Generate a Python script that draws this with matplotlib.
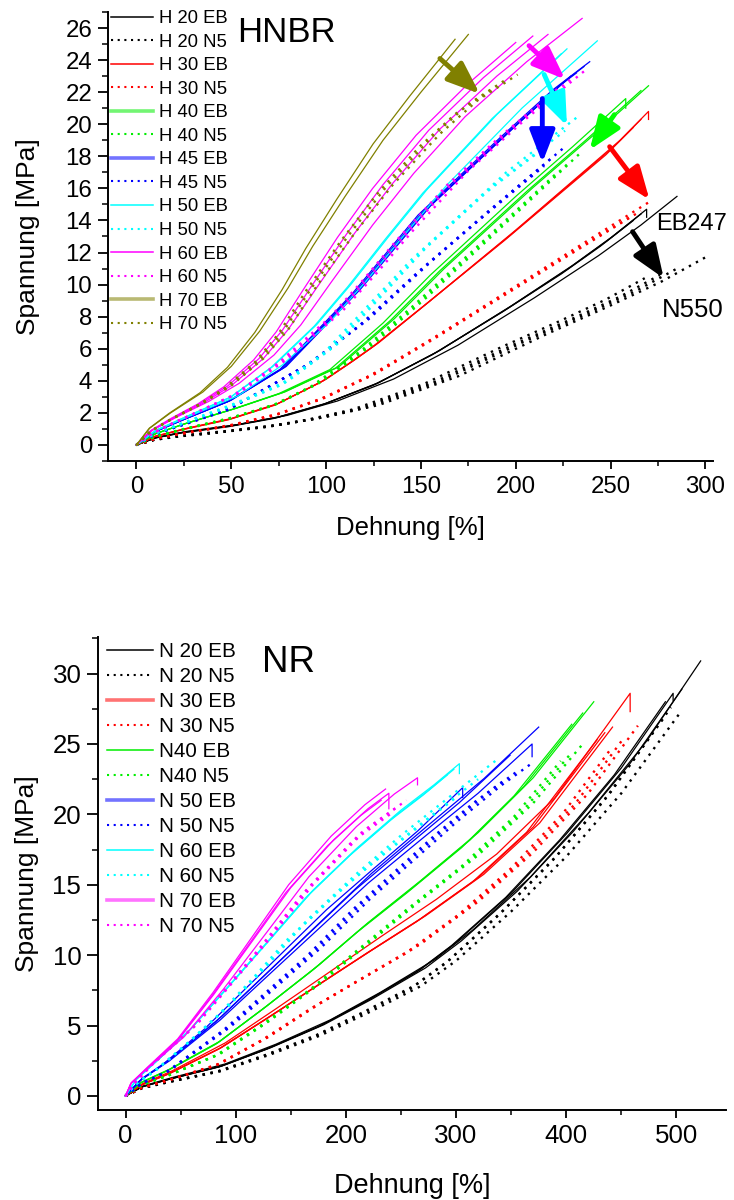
import numpy as np
import matplotlib
matplotlib.use('Agg')
import matplotlib.pyplot as plt
from matplotlib.lines import Line2D
from matplotlib.ticker import MultipleLocator

plt.rcParams['font.family'] = ['Liberation Sans', 'DejaVu Sans']

# ---------------- HNBR (top) data: strain [%], stress [MPa] ----------------
H20_EB_strain = [0, 10, 25, 50, 75, 100, 128, 160, 198, 230, 251, 269]
H20_EB_stress = [0, 0.45, 0.8, 1.2, 1.75, 2.6, 3.9, 5.9, 8.7, 11.2, 13.0, 14.7]
H20_EB_ends = [(269, 14.7, 0.5), (266, 14.4, 0.0), (262, 14.0, 0.0), (285, 15.5, 0.0)]

H20_N5_strain = [0, 10, 25, 50, 75, 100, 128, 170, 216, 250, 277, 300]
H20_N5_stress = [0, 0.35, 0.6, 0.9, 1.25, 1.75, 2.5, 4.3, 6.9, 8.7, 10.2, 11.7]
H20_N5_ends = [(300, 11.7, 0), (285, 11.0, 0), (276, 10.6, 0), (268, 10.4, 0)]

H30_EB_strain = [0, 10, 25, 50, 75, 100, 115, 128, 155, 200, 255, 270]
H30_EB_stress = [0, 0.55, 1.0, 1.65, 2.6, 4.1, 5.3, 6.4, 9.0, 13.4, 19.0, 20.8]
H30_EB_ends = [(270, 20.8, 0.5), (266, 20.3, 0), (262, 19.8, 0)]

H30_N5_strain = [0, 10, 25, 50, 75, 100, 128, 160, 200, 240, 271]
H30_N5_stress = [0, 0.4, 0.75, 1.25, 1.95, 3.0, 4.6, 6.9, 9.9, 12.9, 15.2]
H30_N5_ends = [(271, 15.2, 0), (266, 14.6, 0), (260, 14.2, 0)]

H40_EB_strain = [0, 10, 25, 50, 75, 102, 130, 155, 200, 230, 258]
H40_EB_stress = [0, 0.7, 1.3, 2.2, 3.2, 4.7, 7.6, 10.6, 15.5, 18.6, 21.6]
H40_EB_ends = [(258, 21.6, 0.6), (270, 22.4, 0), (266, 22.1, 0)]

H40_N5_strain = [0, 10, 25, 50, 75, 97, 125, 153, 198, 234]
H40_N5_stress = [0, 0.55, 1.0, 1.7, 2.6, 3.9, 6.3, 9.2, 14.2, 18.2]
H40_N5_ends = [(234, 18.2, 0), (228, 17.6, 0), (222, 17.0, 0)]

H45_EB_strain = [0, 10, 25, 50, 79, 118, 155, 200, 229, 239]
H45_EB_stress = [0, 0.85, 1.6, 2.8, 4.9, 9.7, 14.9, 19.9, 23.0, 23.9]
H45_EB_ends = [(239, 23.9, 0), (236, 23.6, 0), (229, 23.0, 0), (232, 23.2, 0)]

H45_N5_strain = [0, 10, 25, 50, 93, 123, 155, 190, 226]
H45_N5_stress = [0, 0.7, 1.3, 2.3, 5.2, 7.9, 11.4, 15.0, 18.6]
H45_N5_ends = [(226, 18.6, 0), (220, 18.0, 0), (215, 17.4, 0)]

H50_EB_strain = [0, 10, 25, 50, 72, 95, 113, 133, 153, 190, 227]
H50_EB_stress = [0, 0.9, 1.7, 3.0, 4.9, 7.5, 10.0, 13.0, 15.9, 20.6, 24.7]
H50_EB_ends = [(227, 24.7, 0), (224, 24.4, 0), (243, 25.2, 0)]

H50_N5_strain = [0, 10, 25, 50, 80, 106, 130, 155, 195, 233]
H50_N5_stress = [0, 0.75, 1.4, 2.5, 4.0, 6.3, 9.4, 12.6, 17.0, 20.5]
H50_N5_ends = [(233, 20.5, 0), (226, 19.6, 0), (218, 18.8, 0)]

H60_EB_strain = [0, 8, 20, 35, 50, 67, 80, 95, 115, 135, 160, 190, 217]
H60_EB_stress = [0, 0.9, 1.7, 2.6, 3.7, 5.4, 7.2, 9.8, 13.2, 16.3, 19.7, 23.0, 25.6]
H60_EB_ends = [(217, 25.6, 0), (209, 25.5, 0), (200, 25.1, 0), (235, 26.6, 0)]

H60_N5_strain = [0, 8, 20, 35, 55, 80, 109, 128, 146, 175, 205, 237]
H60_N5_stress = [0, 0.7, 1.4, 2.2, 3.3, 5.4, 8.4, 10.9, 13.4, 17.1, 20.3, 23.4]
H60_N5_ends = [(237, 23.4, 0), (230, 22.9, 0), (222, 22.2, 0)]

H70_EB_strain = [0, 7, 18, 35, 50, 65, 80, 93, 110, 130, 150, 175]
H70_EB_stress = [0, 1.05, 2.0, 3.3, 4.9, 7.1, 9.8, 12.4, 15.5, 19.0, 22.0, 25.6]
H70_EB_ends = [(175, 25.6, 0), (168, 25.3, 0)]

H70_N5_strain = [0, 8, 20, 35, 50, 67, 80, 95, 115, 135, 160, 180, 201]
H70_N5_stress = [0, 0.9, 1.7, 2.6, 3.7, 5.4, 7.2, 9.9, 13.2, 16.2, 19.4, 21.5, 23.1]
H70_N5_ends = [(201, 23.1, 0), (195, 22.8, 0), (188, 22.2, 0)]

h_labels = ["H 20 EB", "H 20 N5", "H 30 EB", "H 30 N5", "H 40 EB", "H 40 N5",
            "H 45 EB", "H 45 N5", "H 50 EB", "H 50 N5", "H 60 EB", "H 60 N5",
            "H 70 EB", "H 70 N5"]
h_colors = ["#000000", "#000000", "#ff0000", "#ff0000", "#00ee00", "#00ee00",
            "#0000ff", "#0000ff", "#00ffff", "#00ffff", "#ff00ff", "#ff00ff",
            "#808000", "#808000"]
h_series = [(H20_EB_strain, H20_EB_stress, H20_EB_ends), (H20_N5_strain, H20_N5_stress, H20_N5_ends),
            (H30_EB_strain, H30_EB_stress, H30_EB_ends), (H30_N5_strain, H30_N5_stress, H30_N5_ends),
            (H40_EB_strain, H40_EB_stress, H40_EB_ends), (H40_N5_strain, H40_N5_stress, H40_N5_ends),
            (H45_EB_strain, H45_EB_stress, H45_EB_ends), (H45_N5_strain, H45_N5_stress, H45_N5_ends),
            (H50_EB_strain, H50_EB_stress, H50_EB_ends), (H50_N5_strain, H50_N5_stress, H50_N5_ends),
            (H60_EB_strain, H60_EB_stress, H60_EB_ends), (H60_N5_strain, H60_N5_stress, H60_N5_ends),
            (H70_EB_strain, H70_EB_stress, H70_EB_ends), (H70_N5_strain, H70_N5_stress, H70_N5_ends)]
h_legend_light = ["H 40 EB", "H 45 EB", "H 70 EB"]

# arrows: (start strain, start stress) -> (end strain, end stress)
h_arrow_start = [(160, 24.1), (207, 24.9), (215, 23.1), (214, 21.6), (252, 20.6), (249.5, 18.6), (261.6, 13.3)]
h_arrow_end = [(181, 21.9), (226, 22.8), (227, 19.9), (214, 17.6), (239, 18.4), (270.5, 15.3), (278, 10.4)]
h_arrow_colors = ["#808000", "#ff00ff", "#00ffff", "#0000ff", "#00ff00", "#ff0000", "#000000"]

# ---------------- NR (bottom) data ----------------
N20_EB_strain = [0, 15, 40, 86, 130, 177, 220, 268, 300, 350, 400, 450, 497]
N20_EB_stress = [0, 0.65, 1.2, 2.1, 3.4, 5.0, 6.8, 9.0, 10.9, 14.4, 18.6, 23.3, 28.6]
N20_EB_ends = [(497, 28.6, 0.5), (490, 28.0, 0), (505, 28.9, 0), (522, 30.9, 0)]

N20_N5_strain = [0, 15, 40, 86, 130, 177, 220, 268, 300, 350, 400, 450, 505]
N20_N5_stress = [0, 0.55, 1.0, 1.75, 2.9, 4.3, 5.9, 7.8, 9.6, 13.1, 17.0, 21.5, 27.4]
N20_N5_ends = [(505, 27.4, 0), (495, 27.6, 0), (488, 26.8, 0)]

N30_EB_strain = [0, 15, 40, 86, 130, 177, 220, 268, 320, 370, 435]
N30_EB_stress = [0, 0.8, 1.6, 3.4, 5.6, 8.0, 10.2, 12.6, 15.5, 19.1, 25.8]
N30_EB_ends = [(435, 25.8, 0), (428, 25.3, 0), (442, 26.2, 0), (458, 28.6, 1.3)]

N30_N5_strain = [0, 15, 40, 86, 130, 177, 220, 268, 320, 370, 420, 465]
N30_N5_stress = [0, 0.6, 1.15, 2.3, 4.2, 6.6, 8.6, 10.8, 13.8, 17.3, 21.5, 26.3]
N30_N5_ends = [(465, 26.3, 0), (452, 25.4, 0), (440, 24.6, 0)]

N40_EB_strain = [0, 15, 40, 86, 130, 177, 220, 268, 320, 370, 425]
N40_EB_stress = [0, 1.0, 1.9, 3.9, 6.5, 9.4, 12.3, 15.3, 18.7, 22.6, 28.0]
N40_EB_ends = [(425, 28.0, 0), (415, 27.2, 0), (405, 26.4, 0)]

N40_N5_strain = [0, 15, 40, 86, 130, 177, 220, 268, 320, 370, 415]
N40_N5_stress = [0, 0.8, 1.5, 3.0, 5.3, 8.0, 10.8, 13.9, 17.1, 20.8, 25.0]
N40_N5_ends = [(415, 25.0, 0), (405, 24.4, 0), (395, 23.8, 0)]

N50_EB_strain = [0, 15, 40, 86, 130, 177, 220, 268, 320, 369]
N50_EB_stress = [0, 1.2, 2.5, 5.4, 8.6, 12.0, 15.1, 18.2, 21.5, 25.0]
N50_EB_ends = [(375, 26.2, 0), (369, 25.0, 0.9), (349, 24.2, 0), (306, 21.9, 0.7)]

N50_N5_strain = [0, 15, 40, 95, 177, 222, 268, 301, 340, 370]
N50_N5_stress = [0, 0.9, 1.8, 4.9, 10.5, 14.0, 17.2, 19.5, 22.0, 23.7]
N50_N5_ends = [(370, 23.7, 0), (358, 23.2, 0), (345, 22.5, 0)]

N60_EB_strain = [0, 10, 30, 61, 95, 131, 170, 210, 250, 280, 303]
N60_EB_stress = [0, 1.2, 2.6, 4.9, 7.9, 11.1, 14.6, 17.6, 20.3, 22.1, 23.6]
N60_EB_ends = [(303, 23.6, 0.7), (298, 23.2, 0), (292, 22.8, 0)]

N60_N5_strain = [0, 10, 30, 60, 95, 130, 165, 210, 250, 295, 339]
N60_N5_stress = [0, 0.9, 2.0, 4.0, 6.5, 9.4, 12.5, 15.8, 18.5, 21.3, 24.0]
N60_N5_ends = [(339, 24.0, 0), (320, 22.5, 0), (300, 21.2, 0)]

N70_EB_strain = [0, 5, 20, 48, 80, 116, 150, 189, 220, 239]
N70_EB_stress = [0, 0.9, 2.0, 4.0, 7.2, 11.1, 14.8, 18.2, 20.4, 21.5]
N70_EB_ends = [(239, 21.5, 1.1), (236, 21.8, 0), (232, 21.0, 0), (265, 22.6, 0.5)]

N70_N5_strain = [0, 8, 25, 65, 128, 170, 219, 255]
N70_N5_stress = [0, 0.9, 2.3, 5.1, 10.9, 15.0, 19.0, 21.0]
N70_N5_ends = [(255, 21.0, 0), (248, 20.6, 0), (240, 20.0, 0)]

n_labels = ["N 20 EB", "N 20 N5", "N 30 EB", "N 30 N5", "N40 EB", "N40 N5",
            "N 50 EB", "N 50 N5", "N 60 EB", "N 60 N5", "N 70 EB", "N 70 N5"]
n_colors = ["#000000", "#000000", "#ff0000", "#ff0000", "#00ee00", "#00ee00",
            "#0000ff", "#0000ff", "#00ffff", "#00ffff", "#ff00ff", "#ff00ff"]
n_series = [(N20_EB_strain, N20_EB_stress, N20_EB_ends), (N20_N5_strain, N20_N5_stress, N20_N5_ends),
            (N30_EB_strain, N30_EB_stress, N30_EB_ends), (N30_N5_strain, N30_N5_stress, N30_N5_ends),
            (N40_EB_strain, N40_EB_stress, N40_EB_ends), (N40_N5_strain, N40_N5_stress, N40_N5_ends),
            (N50_EB_strain, N50_EB_stress, N50_EB_ends), (N50_N5_strain, N50_N5_stress, N50_N5_ends),
            (N60_EB_strain, N60_EB_stress, N60_EB_ends), (N60_N5_strain, N60_N5_stress, N60_N5_ends),
            (N70_EB_strain, N70_EB_stress, N70_EB_ends), (N70_N5_strain, N70_N5_stress, N70_N5_ends)]
n_legend_light = ["N 30 EB", "N 50 EB", "N 70 EB"]

DOT = (0, (1, 2.4))


def draw(ax, series, labels, colors):
    for (strain, stress, ends), lab, col in zip(series, labels, colors):
        s = np.asarray(strain, float)
        t = np.asarray(stress, float)
        dotted = lab.endswith("N5")
        for xe, ye, drop in ends:
            x = s * xe / s[-1]
            y = t * ye / t[-1]
            if drop:
                x = np.append(x, xe)
                y = np.append(y, ye - drop)
            if dotted:
                ax.plot(x, y, color=col, lw=1.7, ls=DOT)
            else:
                ax.plot(x, y, color=col, lw=0.9, ls='-')


def handles(labels, colors, light):
    hs = []
    for lab, col in zip(labels, colors):
        if lab.endswith("N5"):
            hs.append(Line2D([], [], color=col, lw=1.5, ls=(0, (1, 2.2))))
        elif lab in light:
            hs.append(Line2D([], [], color=col, lw=2.6, alpha=0.55))
        else:
            hs.append(Line2D([], [], color=col, lw=1.1))
    return hs


def style(ax, tsize, xlen, ylen):
    for sp in ['top', 'right']:
        ax.spines[sp].set_visible(False)
    for sp in ['left', 'bottom']:
        ax.spines[sp].set_linewidth(1.4)
    ax.tick_params(which='both', direction='out', labelsize=tsize)
    ax.tick_params(axis='x', which='major', length=xlen, width=1.3, pad=4.5)
    ax.tick_params(axis='x', which='minor', length=xlen * 0.6, width=1.1)
    ax.tick_params(axis='y', which='major', length=ylen, width=1.3, pad=4)
    ax.tick_params(axis='y', which='minor', length=ylen * 0.55, width=1.1)


fig = plt.figure(figsize=(7.34, 12.0), dpi=100)

# ---- top panel ----
ax1 = fig.add_axes([108 / 734, 1 - 461 / 1200, 605 / 734, 449 / 1200])
draw(ax1, h_series, h_labels, h_colors)
for (x0, y0), (x1, y1), c in zip(h_arrow_start, h_arrow_end, h_arrow_colors):
    ax1.annotate('', xy=(x1, y1), xytext=(x0, y0),
                 arrowprops=dict(arrowstyle='-|>,head_length=0.9,head_width=0.35',
                                 lw=3.5, color=c, mutation_scale=22,
                                 shrinkA=0, shrinkB=0))
ax1.set_xlim(-15, 304)
ax1.set_ylim(-1, 27)
ax1.xaxis.set_major_locator(MultipleLocator(50))
ax1.xaxis.set_minor_locator(MultipleLocator(25))
ax1.yaxis.set_major_locator(MultipleLocator(2))
ax1.yaxis.set_minor_locator(MultipleLocator(1))
style(ax1, 17.3, 6, 7.5)
ax1.set_xlabel("Dehnung [%]", fontsize=18.5, labelpad=13)
ax1.set_ylabel("Spannung [MPa]", fontsize=19, labelpad=18)
ax1.text(237 / 734, 1 - 33 / 1200, "HNBR", transform=fig.transFigure, fontsize=25,
         va='center', ha='left')
ax1.text(274, 13.8, "EB247", fontsize=17, va='center', ha='left')
ax1.text(277, 8.4, "N550", fontsize=18.5, va='center', ha='left')
ax1.legend(handles(h_labels, h_colors, h_legend_light), h_labels, loc='upper left',
           bbox_to_anchor=(111 / 734, 1 - 10 / 1200), bbox_transform=fig.transFigure,
           frameon=False, fontsize=13.3, handlelength=2.3, handletextpad=0.3,
           labelspacing=0.355, borderpad=0, borderaxespad=0)

# ---- bottom panel ----
ax2 = fig.add_axes([98 / 734, 1 - 1110 / 1200, 628 / 734, 473 / 1200])
draw(ax2, n_series, n_labels, n_colors)
ax2.set_xlim(-25, 545)
ax2.set_ylim(-1, 32.6)
ax2.xaxis.set_major_locator(MultipleLocator(100))
ax2.xaxis.set_minor_locator(MultipleLocator(50))
ax2.yaxis.set_major_locator(MultipleLocator(5))
ax2.yaxis.set_minor_locator(MultipleLocator(2.5))
style(ax2, 18.6, 5.5, 8)
ax2.set_xlabel("Dehnung [%]", fontsize=19.5, labelpad=18)
ax2.set_ylabel("Spannung [MPa]", fontsize=19, labelpad=10)
ax2.text(262 / 734, 1 - 662 / 1200, "NR", transform=fig.transFigure, fontsize=26.5,
         va='center', ha='left')
ax2.legend(handles(n_labels, n_colors, n_legend_light), n_labels, loc='upper left',
           bbox_to_anchor=(107 / 734, 1 - 642 / 1200), bbox_transform=fig.transFigure,
           frameon=False, fontsize=14.9, handlelength=2.2, handletextpad=0.3,
           labelspacing=0.29, borderpad=0, borderaxespad=0)

fig.savefig("out.png", dpi=100)
